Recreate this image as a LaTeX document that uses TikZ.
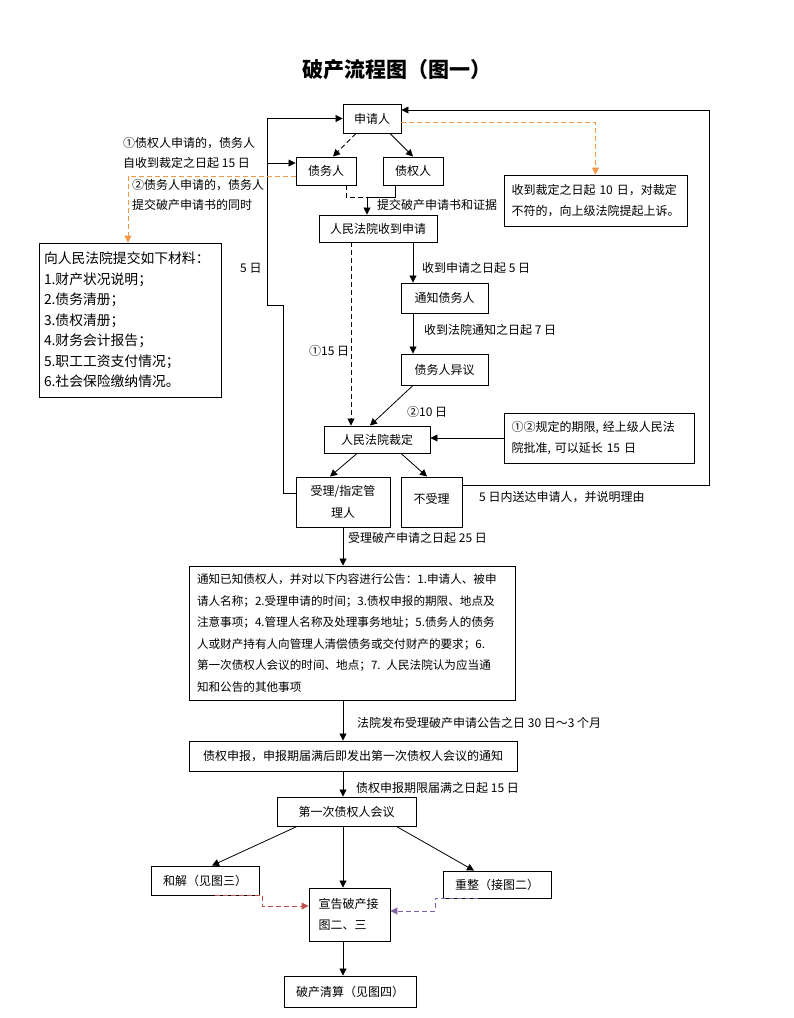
\documentclass[tikz,border=0pt]{standalone}
\usepackage{fontspec}
\setmainfont{Noto Sans CJK SC}
\usetikzlibrary{arrows.meta,calc}
\definecolor{orng}{HTML}{F79646}
\definecolor{redd}{HTML}{C0504D}
\definecolor{purp}{HTML}{8064A2}
\tikzset{
  box/.style={draw,line width=0.9pt,inner sep=0pt,font=\fontsize{12}{21.5}\selectfont},
  lbl/.style={anchor=west,inner sep=0pt,font=\fontsize{12}{21.5}\selectfont},
  conn/.style={line width=0.8pt},
  arr/.style={conn,-{Triangle[length=7pt,width=7pt]}},
  orarr/.style={line width=1pt,orng,dash pattern=on 5pt off 3pt,-{Triangle[length=7pt,width=7pt]}},
  redarr/.style={line width=1pt,redd,dash pattern=on 5pt off 3pt,-{Triangle[length=7pt,width=7pt]}},
  purarr/.style={line width=1pt,purp,dash pattern=on 5pt off 3pt,-{Triangle[length=7pt,width=7pt]}},
  dsh/.style={dash pattern=on 5pt off 3pt}
}
\begin{document}
\begin{tikzpicture}[x=1pt,y=-1pt]
\useasboundingbox (0,0) rectangle (793,1018);
\fill[white] (0,0) rectangle (793,1018);

\node[inner sep=0pt,font=\fontsize{21}{24}\selectfont\bfseries] (title) at (397,70) {破产流程图（图一）};

% boxes
\node[box,minimum width=58,minimum height=29] (sqr) at (372,118.5) {申请人};
\node[box,minimum width=60,minimum height=28] (zwr) at (326,171) {债务人};
\node[box,minimum width=60,minimum height=28] (zqr) at (413,171) {债权人};
\node[box,minimum width=118,minimum height=27] (fy1) at (378,228.5) {人民法院收到申请};
\node[box,minimum width=87,minimum height=30] (tz) at (444.5,298) {通知债务人};
\node[box,minimum width=87,minimum height=31] (yy) at (444.5,369.5) {债务人异议};
\node[box,minimum width=106,minimum height=27] (cd) at (377,439.5) {人民法院裁定};
\node[box,minimum width=190,minimum height=50,align=left,text width=175] (yc) at (599,438) {①②规定的期限, 经上级人民法\\院批准, 可以延长 15 日};
\node[box,minimum width=94,minimum height=50,align=center] (sl) at (343,502) {受理/指定管\\理人};
\node[box,minimum width=61,minimum height=50] (bsl) at (431.5,502) {\raisebox{8pt}{不受理}};
\node[box,minimum width=183,minimum height=51,align=left,text width=168] (ss) at (595.5,200.5) {收到裁定之日起 10 日，对裁定\\不符的，向上级法院提起上诉。};
\node[box,minimum width=182,minimum height=154,align=left,text width=172,font=\fontsize{13.8}{20.5}\selectfont] (cl) at (130,320) {向人民法院提交如下材料：\\1.财产状况说明；\\2.债务清册；\\3.债权清册；\\4.财务会计报告；\\5.职工工资支付情况；\\6.社会保险缴纳情况。};
\node[box,minimum width=326,minimum height=134,align=left,text width=310,font=\fontsize{11.6}{21.5}\selectfont] (gg) at (352,633) {通知已知债权人，并对以下内容进行公告：1.申请人、被申\\请人名称；2.受理申请的时间；3.债权申报的期限、地点及\\注意事项；4.管理人名称及处理事务地址；5.债务人的债务\\人或财产持有人向管理人清偿债务或交付财产的要求；6.\\第一次债权人会议的时间、地点；7. 人民法院认为应当通\\知和公告的其他事项};
\node[box,minimum width=328,minimum height=30] (sb) at (353,756) {债权申报，申报期届满后即发出第一次债权人会议的通知};
\node[box,minimum width=139,minimum height=29] (hy) at (346.5,811.5) {第一次债权人会议};
\node[box,minimum width=108,minimum height=29] (hj) at (205,880.5) {和解（见图三）};
\node[box,minimum width=81,minimum height=53,align=left,text width=62] (xg) at (349.5,914.5) {宣告破产接\\图二、三};
\node[box,minimum width=108,minimum height=27] (cz) at (497,884.5) {重整（接图二）};
\node[box,minimum width=132,minimum height=31] (qs) at (350,991.5) {破产清算（见图四）};

% labels
\node[lbl] (t1) at (123,143) {①债权人申请的，债务人};
\node[lbl] (t2) at (123,163) {自收到裁定之日起 15 日};
\node[lbl] (t3) at (132,185) {②债务人申请的，债务人};
\node[lbl] (t4) at (132,205) {提交破产申请书的同时};
\node[lbl] (t5) at (377,205) {提交破产申请书和证据};
\node[lbl] (t6) at (240,268) {5 日};
\node[lbl] (t7) at (422,268) {收到申请之日起 5 日};
\node[lbl] (t8) at (424,330) {收到法院通知之日起 7 日};
\node[lbl] (t9) at (309,351) {①15 日};
\node[lbl] (t10) at (407,412) {②10 日};
\node[lbl] (t11) at (479,497) {5 日内送达申请人，并说明理由};
\node[lbl] (t12) at (348,538) {受理破产申请之日起 25 日};
\node[lbl] (t13) at (357,723) {法院发布受理破产申请公告之日 30 日～3 个月};
\node[lbl] (t14) at (356,788) {债权申报期限届满之日起 15 日};

% coordinates
\coordinate (j) at (367,197);
\coordinate (rc) at (709,110);
\coordinate (l1) at (283,305);
\coordinate (l2) at (267,305);
\coordinate (l3) at (267,163);
\coordinate (rj) at (262,906);
\coordinate (pj) at (435,911);

% connectors
\draw[arr,dsh] ([xshift=-16]sqr.south) -- ([xshift=7]zwr.north);
\draw[arr] ([xshift=18]sqr.south) -- (zqr.north);
\draw[conn,dsh] ([xshift=20]zwr.south) |- (j);
\draw[conn] ([xshift=-18]zqr.south) |- (j);
\draw[arr] (j) -- (j |- fy1.north);
\draw[arr,dsh] ([xshift=-27]fy1.south) -- ([xshift=-27]fy1.south |- cd.north);
\draw[arr] ([xshift=35]fy1.south) -- ([xshift=35]fy1.south |- tz.north);
\draw[arr] ([xshift=-31.5]tz.south) -- ([xshift=-31.5]yy.north);
\draw[arr] ([xshift=-31.5]yy.south) -- ([xshift=-7]cd.north);
\draw[arr] (yc.west) -- (yc.west -| cd.east);
\draw[arr] ([xshift=-20]cd.south) -- ([xshift=-13]sl.north);
\draw[arr] ([xshift=24]cd.south) -- ([xshift=-4.5]bsl.north);
\draw[arr] ([yshift=17]bsl.east) -| (rc) -- ([yshift=8.5]sqr.east);
\draw[arr] ([yshift=9]sl.west) -| (l1) -- (l2) |- (sqr.west);
\draw[arr] (l3) -- (l3 -| zwr.west);
\draw[orarr] ([yshift=-5]zwr.west) -| ([xshift=-2]cl.north);
\draw[orarr] ([yshift=-3.5]sqr.east) -| (ss.north);
\draw[arr] (sl.south) -- (sl.south |- gg.north);
\draw[arr] ([xshift=-9]gg.south) -- ([xshift=-9]gg.south |- sb.north);
\draw[arr] ([xshift=-10]sb.south) -- ([xshift=-10]sb.south |- hy.north);
\draw[arr] ([xshift=-49.5]hy.south) -- ([xshift=7]hj.north);
\draw[arr] ([xshift=-3.5]hy.south) -- ([xshift=-3.5]hy.south |- xg.north);
\draw[arr] ([xshift=50]hy.south) -- ([xshift=-23]cz.north);
\draw[redarr] ([xshift=10]hj.south) -| (rj) -- (rj -| xg.west);
\draw[purarr] ([xshift=-19]cz.south) -| (pj) -- (pj -| xg.east);
\draw[arr] ([xshift=-6.5]xg.south) -- ([xshift=-6.5]xg.south |- qs.north);
\end{tikzpicture}
\end{document}
